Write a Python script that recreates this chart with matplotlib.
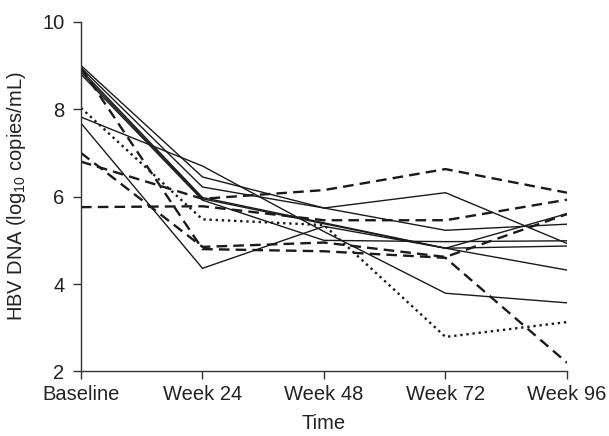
import matplotlib
matplotlib.use("Agg")
import matplotlib.pyplot as plt

plt.rcParams['font.family'] = ['Liberation Sans', 'DejaVu Sans']
plt.rcParams['mathtext.fontset'] = 'custom'
plt.rcParams['mathtext.rm'] = 'Liberation Sans'
plt.rcParams['mathtext.it'] = 'Liberation Sans'

timepoints = ["Baseline", "Week 24", "Week 48", "Week 72", "Week 96"]

# solid lines
pt_a = [9.00, 6.45, 5.74, 6.09, 4.93]
pt_b = [8.95, 6.22, 5.74, 5.23, 5.37]
pt_c = [8.90, 5.98, 5.40, 4.82, 5.61]
pt_d = [8.85, 5.95, 5.38, 4.82, 4.87]
pt_e = [8.80, 5.92, 5.00, 4.97, 4.99]
pt_f = [7.82, 6.70, 5.20, 3.79, 3.57]
pt_g = [7.68, 4.36, 5.32, 4.82, 4.32]
# dashed lines
pt_h = [8.95, 4.80, 4.75, 4.60, 2.20]
pt_j = [7.00, 4.85, 4.95, 4.62, 5.60]
pt_k = [6.80, 5.95, 6.15, 6.63, 6.09]
pt_i = [5.76, 5.78, 5.46, 5.46, 5.93]
# dotted line
pt_l = [8.03, 5.48, 5.35, 2.79, 3.13]

solid = [pt_a, pt_b, pt_c, pt_d, pt_e, pt_f, pt_g]
dashed = [pt_h, pt_j, pt_k, pt_i]
dotted = [pt_l]

x = range(len(timepoints))
col = "#1a1a1a"

fig = plt.figure(figsize=(6.09, 4.36), dpi=100)
ax = fig.add_axes([0.133, 0.148, 0.798, 0.802])

for v in solid:
    ax.plot(x, v, color=col, lw=1.0, solid_joinstyle="miter")
for v in dashed:
    ax.plot(x, v, color=col, lw=1.7, linestyle=(0, (4.5, 2.6)))
for v in dotted:
    ax.plot(x, v, color=col, lw=1.7, linestyle=(0, (1, 1.6)))

ax.set_xlim(0, 4)
ax.set_ylim(2, 10)
ax.set_xticks(list(x))
ax.set_xticklabels(timepoints)
ax.set_yticks([2, 4, 6, 8, 10])
ax.spines["top"].set_visible(False)
ax.spines["right"].set_visible(False)
for s in ["left", "bottom"]:
    ax.spines[s].set_linewidth(1.0)
    ax.spines[s].set_color("#333333")
ax.tick_params(axis="both", direction="out", length=6, width=1.0,
               color="#333333", labelsize=14.5, labelcolor="#222222")
ax.tick_params(axis="y", pad=6)
ax.tick_params(axis="x", pad=4)
ax.set_xlabel("Time", fontsize=14.5, color="#222222", labelpad=7)
ax.set_ylabel(r"HBV DNA (log$_{10}$ copies/mL)", fontsize=14.5,
              color="#222222", labelpad=10)

fig.savefig("out.png", dpi=100)
